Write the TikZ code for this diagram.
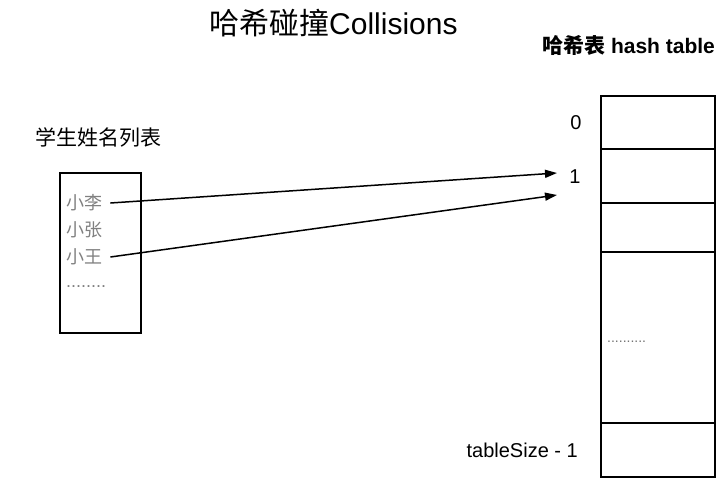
\documentclass[tikz,border=0pt]{standalone}
\usepackage{fontspec}
\setmainfont{Liberation Sans}
\newfontfamily\cjk{Noto Sans CJK SC}
\usetikzlibrary{arrows.meta}
\begin{document}
\begin{tikzpicture}[x=1pt,y=-1pt,
  txt/.style={inner sep=0pt,anchor=west},
  item/.style={txt,text=black!50,font=\fontsize{18}{20}\selectfont\cjk},
  lbl/.style={inner sep=0pt,font=\fontsize{20}{22}\selectfont},
  cellbox/.style={draw,line width=1.5pt,minimum width=114pt,anchor=north west,inner sep=0pt},
  arr/.style={line width=1.5pt,-{Triangle[length=12pt,width=8pt]}}]
\useasboundingbox (0,0) rectangle (724,483);
% titles
\node[txt,font=\fontsize{30}{32}\selectfont] (title) at (209,23) {{\cjk 哈希碰撞}Collisions};
\node[txt,font=\fontsize{21}{23}\selectfont\bfseries] (httitle) at (542,45) {{\cjk 哈希表} hash table};
\node[txt,font=\fontsize{21}{23}\selectfont\cjk] (listtitle) at (35,137) {学生姓名列表};
% list box
\node[draw,line width=1.5pt,minimum width=81pt,minimum height=160pt,anchor=north west,inner sep=0pt] (list) at (59,172) {};
\node[item] (li) at (66,203) {小李};
\node[item] (zhang) at (66,230) {小张};
\node[item] (wang) at (66,257) {小王};
\node[item,font=\fontsize{18}{20}\selectfont] (ldots) at (66,287) {........};
% hash table
\node[cellbox,minimum height=53pt] (c0) at (600,95) {};
\node[cellbox,minimum height=54pt] (c1) at (600,148) {};
\node[cellbox,minimum height=49pt] (c2) at (600,202) {};
\node[cellbox,minimum height=171pt] (c3) at (600,251) {};
\node[cellbox,minimum height=54pt] (c4) at (600,422) {};
\node[txt,text=black!55,font=\fontsize{14}{16}\selectfont] (tdots) at (607,342) {..........};
% row labels
\node[lbl] (r0) at (576,123) {0};
\node[lbl] (r1) at (575,177) {1};
\node[lbl,anchor=east] (rlast) at (578,450) {tableSize - 1};
% arrows
\coordinate (t1) at (557,173);
\coordinate (t2) at (557,195);
\draw[arr] ([xshift=8pt]li.east) -- (t1);
\draw[arr] ([xshift=8pt]wang.east) -- (t2);
\end{tikzpicture}
\end{document}
